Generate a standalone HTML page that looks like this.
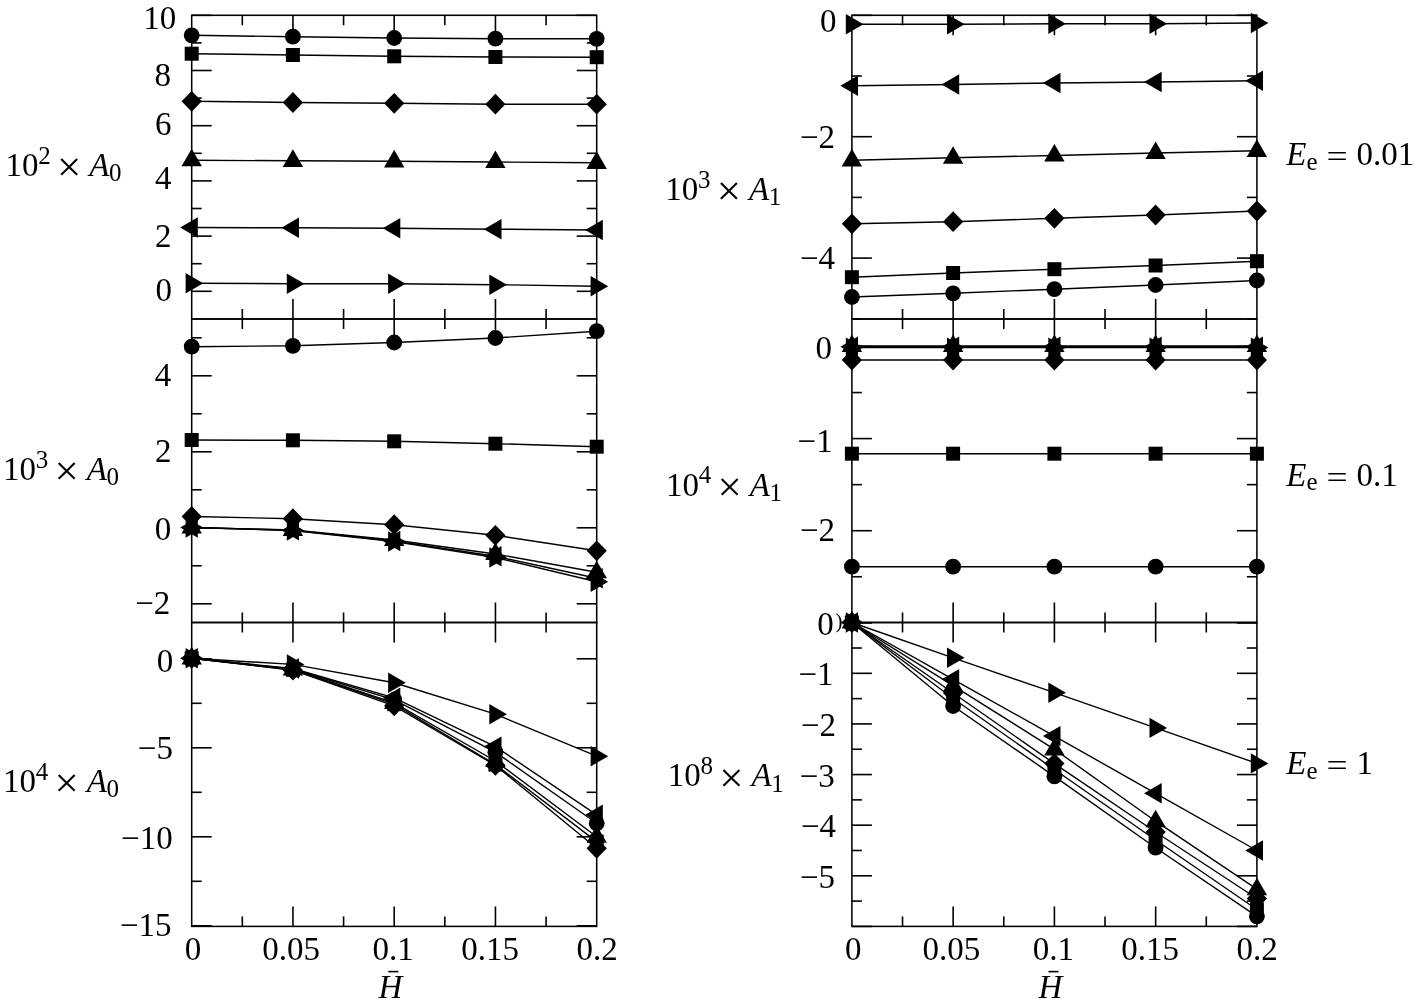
<!DOCTYPE html>
<html lang="en"><head><meta charset="utf-8"><title>Figure</title>
<style>html,body{margin:0;padding:0;background:#fff}body{width:1416px;height:1004px;overflow:hidden}</style></head>
<body>
<svg width="1416" height="1004" viewBox="0 0 1416 1004" style="display:block">
<rect width="1416" height="1004" fill="#fff"/>
<g stroke="#000" fill="#000" stroke-linecap="butt">
<rect x="191.70" y="15.30" width="405.00" height="303.70" fill="none" stroke-width="1.55"/>
<line x1="242.32" y1="15.30" x2="242.32" y2="25.30" stroke-width="1.6"/>
<line x1="242.32" y1="319.00" x2="242.32" y2="309.00" stroke-width="1.6"/>
<line x1="292.95" y1="15.30" x2="292.95" y2="35.30" stroke-width="1.6"/>
<line x1="292.95" y1="319.00" x2="292.95" y2="299.00" stroke-width="1.6"/>
<line x1="343.58" y1="15.30" x2="343.58" y2="25.30" stroke-width="1.6"/>
<line x1="343.58" y1="319.00" x2="343.58" y2="309.00" stroke-width="1.6"/>
<line x1="394.20" y1="15.30" x2="394.20" y2="35.30" stroke-width="1.6"/>
<line x1="394.20" y1="319.00" x2="394.20" y2="299.00" stroke-width="1.6"/>
<line x1="444.83" y1="15.30" x2="444.83" y2="25.30" stroke-width="1.6"/>
<line x1="444.83" y1="319.00" x2="444.83" y2="309.00" stroke-width="1.6"/>
<line x1="495.45" y1="15.30" x2="495.45" y2="35.30" stroke-width="1.6"/>
<line x1="495.45" y1="319.00" x2="495.45" y2="299.00" stroke-width="1.6"/>
<line x1="546.08" y1="15.30" x2="546.08" y2="25.30" stroke-width="1.6"/>
<line x1="546.08" y1="319.00" x2="546.08" y2="309.00" stroke-width="1.6"/>
<line x1="191.70" y1="291.30" x2="211.70" y2="291.30" stroke-width="1.6"/>
<line x1="596.70" y1="291.30" x2="576.70" y2="291.30" stroke-width="1.6"/>
<line x1="191.70" y1="236.10" x2="211.70" y2="236.10" stroke-width="1.6"/>
<line x1="596.70" y1="236.10" x2="576.70" y2="236.10" stroke-width="1.6"/>
<line x1="191.70" y1="180.90" x2="211.70" y2="180.90" stroke-width="1.6"/>
<line x1="596.70" y1="180.90" x2="576.70" y2="180.90" stroke-width="1.6"/>
<line x1="191.70" y1="125.70" x2="211.70" y2="125.70" stroke-width="1.6"/>
<line x1="596.70" y1="125.70" x2="576.70" y2="125.70" stroke-width="1.6"/>
<line x1="191.70" y1="70.50" x2="211.70" y2="70.50" stroke-width="1.6"/>
<line x1="596.70" y1="70.50" x2="576.70" y2="70.50" stroke-width="1.6"/>
<line x1="191.70" y1="15.30" x2="211.70" y2="15.30" stroke-width="1.6"/>
<line x1="596.70" y1="15.30" x2="576.70" y2="15.30" stroke-width="1.6"/>
<line x1="191.70" y1="263.70" x2="201.70" y2="263.70" stroke-width="1.6"/>
<line x1="596.70" y1="263.70" x2="586.70" y2="263.70" stroke-width="1.6"/>
<line x1="191.70" y1="208.50" x2="201.70" y2="208.50" stroke-width="1.6"/>
<line x1="596.70" y1="208.50" x2="586.70" y2="208.50" stroke-width="1.6"/>
<line x1="191.70" y1="153.30" x2="201.70" y2="153.30" stroke-width="1.6"/>
<line x1="596.70" y1="153.30" x2="586.70" y2="153.30" stroke-width="1.6"/>
<line x1="191.70" y1="98.10" x2="201.70" y2="98.10" stroke-width="1.6"/>
<line x1="596.70" y1="98.10" x2="586.70" y2="98.10" stroke-width="1.6"/>
<line x1="191.70" y1="42.90" x2="201.70" y2="42.90" stroke-width="1.6"/>
<line x1="596.70" y1="42.90" x2="586.70" y2="42.90" stroke-width="1.6"/>
<rect x="191.70" y="319.00" width="405.00" height="303.50" fill="none" stroke-width="1.55"/>
<line x1="242.32" y1="319.00" x2="242.32" y2="329.00" stroke-width="1.6"/>
<line x1="242.32" y1="622.50" x2="242.32" y2="612.50" stroke-width="1.6"/>
<line x1="292.95" y1="319.00" x2="292.95" y2="339.00" stroke-width="1.6"/>
<line x1="292.95" y1="622.50" x2="292.95" y2="602.50" stroke-width="1.6"/>
<line x1="343.58" y1="319.00" x2="343.58" y2="329.00" stroke-width="1.6"/>
<line x1="343.58" y1="622.50" x2="343.58" y2="612.50" stroke-width="1.6"/>
<line x1="394.20" y1="319.00" x2="394.20" y2="339.00" stroke-width="1.6"/>
<line x1="394.20" y1="622.50" x2="394.20" y2="602.50" stroke-width="1.6"/>
<line x1="444.83" y1="319.00" x2="444.83" y2="329.00" stroke-width="1.6"/>
<line x1="444.83" y1="622.50" x2="444.83" y2="612.50" stroke-width="1.6"/>
<line x1="495.45" y1="319.00" x2="495.45" y2="339.00" stroke-width="1.6"/>
<line x1="495.45" y1="622.50" x2="495.45" y2="602.50" stroke-width="1.6"/>
<line x1="546.08" y1="319.00" x2="546.08" y2="329.00" stroke-width="1.6"/>
<line x1="546.08" y1="622.50" x2="546.08" y2="612.50" stroke-width="1.6"/>
<line x1="191.70" y1="603.80" x2="211.70" y2="603.80" stroke-width="1.6"/>
<line x1="596.70" y1="603.80" x2="576.70" y2="603.80" stroke-width="1.6"/>
<line x1="191.70" y1="527.80" x2="211.70" y2="527.80" stroke-width="1.6"/>
<line x1="596.70" y1="527.80" x2="576.70" y2="527.80" stroke-width="1.6"/>
<line x1="191.70" y1="451.80" x2="211.70" y2="451.80" stroke-width="1.6"/>
<line x1="596.70" y1="451.80" x2="576.70" y2="451.80" stroke-width="1.6"/>
<line x1="191.70" y1="375.80" x2="211.70" y2="375.80" stroke-width="1.6"/>
<line x1="596.70" y1="375.80" x2="576.70" y2="375.80" stroke-width="1.6"/>
<line x1="191.70" y1="565.80" x2="201.70" y2="565.80" stroke-width="1.6"/>
<line x1="596.70" y1="565.80" x2="586.70" y2="565.80" stroke-width="1.6"/>
<line x1="191.70" y1="489.80" x2="201.70" y2="489.80" stroke-width="1.6"/>
<line x1="596.70" y1="489.80" x2="586.70" y2="489.80" stroke-width="1.6"/>
<line x1="191.70" y1="413.80" x2="201.70" y2="413.80" stroke-width="1.6"/>
<line x1="596.70" y1="413.80" x2="586.70" y2="413.80" stroke-width="1.6"/>
<line x1="191.70" y1="337.80" x2="201.70" y2="337.80" stroke-width="1.6"/>
<line x1="596.70" y1="337.80" x2="586.70" y2="337.80" stroke-width="1.6"/>
<rect x="191.70" y="622.50" width="405.00" height="303.90" fill="none" stroke-width="1.55"/>
<line x1="242.32" y1="622.50" x2="242.32" y2="632.50" stroke-width="1.6"/>
<line x1="242.32" y1="926.40" x2="242.32" y2="916.40" stroke-width="1.6"/>
<line x1="292.95" y1="622.50" x2="292.95" y2="642.50" stroke-width="1.6"/>
<line x1="292.95" y1="926.40" x2="292.95" y2="906.40" stroke-width="1.6"/>
<line x1="343.58" y1="622.50" x2="343.58" y2="632.50" stroke-width="1.6"/>
<line x1="343.58" y1="926.40" x2="343.58" y2="916.40" stroke-width="1.6"/>
<line x1="394.20" y1="622.50" x2="394.20" y2="642.50" stroke-width="1.6"/>
<line x1="394.20" y1="926.40" x2="394.20" y2="906.40" stroke-width="1.6"/>
<line x1="444.83" y1="622.50" x2="444.83" y2="632.50" stroke-width="1.6"/>
<line x1="444.83" y1="926.40" x2="444.83" y2="916.40" stroke-width="1.6"/>
<line x1="495.45" y1="622.50" x2="495.45" y2="642.50" stroke-width="1.6"/>
<line x1="495.45" y1="926.40" x2="495.45" y2="906.40" stroke-width="1.6"/>
<line x1="546.08" y1="622.50" x2="546.08" y2="632.50" stroke-width="1.6"/>
<line x1="546.08" y1="926.40" x2="546.08" y2="916.40" stroke-width="1.6"/>
<line x1="191.70" y1="658.80" x2="211.70" y2="658.80" stroke-width="1.6"/>
<line x1="596.70" y1="658.80" x2="576.70" y2="658.80" stroke-width="1.6"/>
<line x1="191.70" y1="747.80" x2="211.70" y2="747.80" stroke-width="1.6"/>
<line x1="596.70" y1="747.80" x2="576.70" y2="747.80" stroke-width="1.6"/>
<line x1="191.70" y1="836.80" x2="211.70" y2="836.80" stroke-width="1.6"/>
<line x1="596.70" y1="836.80" x2="576.70" y2="836.80" stroke-width="1.6"/>
<line x1="191.70" y1="925.80" x2="211.70" y2="925.80" stroke-width="1.6"/>
<line x1="596.70" y1="925.80" x2="576.70" y2="925.80" stroke-width="1.6"/>
<line x1="191.70" y1="703.30" x2="201.70" y2="703.30" stroke-width="1.6"/>
<line x1="596.70" y1="703.30" x2="586.70" y2="703.30" stroke-width="1.6"/>
<line x1="191.70" y1="792.30" x2="201.70" y2="792.30" stroke-width="1.6"/>
<line x1="596.70" y1="792.30" x2="586.70" y2="792.30" stroke-width="1.6"/>
<line x1="191.70" y1="881.30" x2="201.70" y2="881.30" stroke-width="1.6"/>
<line x1="596.70" y1="881.30" x2="586.70" y2="881.30" stroke-width="1.6"/>
<rect x="851.90" y="15.30" width="405.00" height="303.70" fill="none" stroke-width="1.55"/>
<line x1="902.53" y1="15.30" x2="902.53" y2="25.30" stroke-width="1.6"/>
<line x1="902.53" y1="319.00" x2="902.53" y2="309.00" stroke-width="1.6"/>
<line x1="953.15" y1="15.30" x2="953.15" y2="35.30" stroke-width="1.6"/>
<line x1="953.15" y1="319.00" x2="953.15" y2="299.00" stroke-width="1.6"/>
<line x1="1003.78" y1="15.30" x2="1003.78" y2="25.30" stroke-width="1.6"/>
<line x1="1003.78" y1="319.00" x2="1003.78" y2="309.00" stroke-width="1.6"/>
<line x1="1054.40" y1="15.30" x2="1054.40" y2="35.30" stroke-width="1.6"/>
<line x1="1054.40" y1="319.00" x2="1054.40" y2="299.00" stroke-width="1.6"/>
<line x1="1105.03" y1="15.30" x2="1105.03" y2="25.30" stroke-width="1.6"/>
<line x1="1105.03" y1="319.00" x2="1105.03" y2="309.00" stroke-width="1.6"/>
<line x1="1155.65" y1="15.30" x2="1155.65" y2="35.30" stroke-width="1.6"/>
<line x1="1155.65" y1="319.00" x2="1155.65" y2="299.00" stroke-width="1.6"/>
<line x1="1206.28" y1="15.30" x2="1206.28" y2="25.30" stroke-width="1.6"/>
<line x1="1206.28" y1="319.00" x2="1206.28" y2="309.00" stroke-width="1.6"/>
<line x1="851.90" y1="15.30" x2="871.90" y2="15.30" stroke-width="1.6"/>
<line x1="1256.90" y1="15.30" x2="1236.90" y2="15.30" stroke-width="1.6"/>
<line x1="851.90" y1="136.70" x2="871.90" y2="136.70" stroke-width="1.6"/>
<line x1="1256.90" y1="136.70" x2="1236.90" y2="136.70" stroke-width="1.6"/>
<line x1="851.90" y1="258.10" x2="871.90" y2="258.10" stroke-width="1.6"/>
<line x1="1256.90" y1="258.10" x2="1236.90" y2="258.10" stroke-width="1.6"/>
<line x1="851.90" y1="76.00" x2="861.90" y2="76.00" stroke-width="1.6"/>
<line x1="1256.90" y1="76.00" x2="1246.90" y2="76.00" stroke-width="1.6"/>
<line x1="851.90" y1="197.40" x2="861.90" y2="197.40" stroke-width="1.6"/>
<line x1="1256.90" y1="197.40" x2="1246.90" y2="197.40" stroke-width="1.6"/>
<line x1="851.90" y1="318.80" x2="861.90" y2="318.80" stroke-width="1.6"/>
<line x1="1256.90" y1="318.80" x2="1246.90" y2="318.80" stroke-width="1.6"/>
<rect x="851.90" y="319.00" width="405.00" height="303.50" fill="none" stroke-width="1.55"/>
<line x1="902.53" y1="319.00" x2="902.53" y2="329.00" stroke-width="1.6"/>
<line x1="902.53" y1="622.50" x2="902.53" y2="612.50" stroke-width="1.6"/>
<line x1="953.15" y1="319.00" x2="953.15" y2="339.00" stroke-width="1.6"/>
<line x1="953.15" y1="622.50" x2="953.15" y2="602.50" stroke-width="1.6"/>
<line x1="1003.78" y1="319.00" x2="1003.78" y2="329.00" stroke-width="1.6"/>
<line x1="1003.78" y1="622.50" x2="1003.78" y2="612.50" stroke-width="1.6"/>
<line x1="1054.40" y1="319.00" x2="1054.40" y2="339.00" stroke-width="1.6"/>
<line x1="1054.40" y1="622.50" x2="1054.40" y2="602.50" stroke-width="1.6"/>
<line x1="1105.03" y1="319.00" x2="1105.03" y2="329.00" stroke-width="1.6"/>
<line x1="1105.03" y1="622.50" x2="1105.03" y2="612.50" stroke-width="1.6"/>
<line x1="1155.65" y1="319.00" x2="1155.65" y2="339.00" stroke-width="1.6"/>
<line x1="1155.65" y1="622.50" x2="1155.65" y2="602.50" stroke-width="1.6"/>
<line x1="1206.28" y1="319.00" x2="1206.28" y2="329.00" stroke-width="1.6"/>
<line x1="1206.28" y1="622.50" x2="1206.28" y2="612.50" stroke-width="1.6"/>
<line x1="851.90" y1="346.50" x2="871.90" y2="346.50" stroke-width="1.6"/>
<line x1="1256.90" y1="346.50" x2="1236.90" y2="346.50" stroke-width="1.6"/>
<line x1="851.90" y1="438.60" x2="871.90" y2="438.60" stroke-width="1.6"/>
<line x1="1256.90" y1="438.60" x2="1236.90" y2="438.60" stroke-width="1.6"/>
<line x1="851.90" y1="530.70" x2="871.90" y2="530.70" stroke-width="1.6"/>
<line x1="1256.90" y1="530.70" x2="1236.90" y2="530.70" stroke-width="1.6"/>
<line x1="851.90" y1="622.80" x2="871.90" y2="622.80" stroke-width="1.6"/>
<line x1="1256.90" y1="622.80" x2="1236.90" y2="622.80" stroke-width="1.6"/>
<line x1="851.90" y1="392.55" x2="861.90" y2="392.55" stroke-width="1.6"/>
<line x1="1256.90" y1="392.55" x2="1246.90" y2="392.55" stroke-width="1.6"/>
<line x1="851.90" y1="484.65" x2="861.90" y2="484.65" stroke-width="1.6"/>
<line x1="1256.90" y1="484.65" x2="1246.90" y2="484.65" stroke-width="1.6"/>
<line x1="851.90" y1="576.75" x2="861.90" y2="576.75" stroke-width="1.6"/>
<line x1="1256.90" y1="576.75" x2="1246.90" y2="576.75" stroke-width="1.6"/>
<rect x="851.90" y="622.50" width="405.00" height="303.90" fill="none" stroke-width="1.55"/>
<line x1="902.53" y1="622.50" x2="902.53" y2="632.50" stroke-width="1.6"/>
<line x1="902.53" y1="926.40" x2="902.53" y2="916.40" stroke-width="1.6"/>
<line x1="953.15" y1="622.50" x2="953.15" y2="642.50" stroke-width="1.6"/>
<line x1="953.15" y1="926.40" x2="953.15" y2="906.40" stroke-width="1.6"/>
<line x1="1003.78" y1="622.50" x2="1003.78" y2="632.50" stroke-width="1.6"/>
<line x1="1003.78" y1="926.40" x2="1003.78" y2="916.40" stroke-width="1.6"/>
<line x1="1054.40" y1="622.50" x2="1054.40" y2="642.50" stroke-width="1.6"/>
<line x1="1054.40" y1="926.40" x2="1054.40" y2="906.40" stroke-width="1.6"/>
<line x1="1105.03" y1="622.50" x2="1105.03" y2="632.50" stroke-width="1.6"/>
<line x1="1105.03" y1="926.40" x2="1105.03" y2="916.40" stroke-width="1.6"/>
<line x1="1155.65" y1="622.50" x2="1155.65" y2="642.50" stroke-width="1.6"/>
<line x1="1155.65" y1="926.40" x2="1155.65" y2="906.40" stroke-width="1.6"/>
<line x1="1206.28" y1="622.50" x2="1206.28" y2="632.50" stroke-width="1.6"/>
<line x1="1206.28" y1="926.40" x2="1206.28" y2="916.40" stroke-width="1.6"/>
<line x1="851.90" y1="622.70" x2="871.90" y2="622.70" stroke-width="1.6"/>
<line x1="1256.90" y1="622.70" x2="1236.90" y2="622.70" stroke-width="1.6"/>
<line x1="851.90" y1="673.32" x2="871.90" y2="673.32" stroke-width="1.6"/>
<line x1="1256.90" y1="673.32" x2="1236.90" y2="673.32" stroke-width="1.6"/>
<line x1="851.90" y1="723.94" x2="871.90" y2="723.94" stroke-width="1.6"/>
<line x1="1256.90" y1="723.94" x2="1236.90" y2="723.94" stroke-width="1.6"/>
<line x1="851.90" y1="774.56" x2="871.90" y2="774.56" stroke-width="1.6"/>
<line x1="1256.90" y1="774.56" x2="1236.90" y2="774.56" stroke-width="1.6"/>
<line x1="851.90" y1="825.18" x2="871.90" y2="825.18" stroke-width="1.6"/>
<line x1="1256.90" y1="825.18" x2="1236.90" y2="825.18" stroke-width="1.6"/>
<line x1="851.90" y1="875.80" x2="871.90" y2="875.80" stroke-width="1.6"/>
<line x1="1256.90" y1="875.80" x2="1236.90" y2="875.80" stroke-width="1.6"/>
<line x1="851.90" y1="926.42" x2="871.90" y2="926.42" stroke-width="1.6"/>
<line x1="1256.90" y1="926.42" x2="1236.90" y2="926.42" stroke-width="1.6"/>
<line x1="851.90" y1="648.01" x2="861.90" y2="648.01" stroke-width="1.6"/>
<line x1="1256.90" y1="648.01" x2="1246.90" y2="648.01" stroke-width="1.6"/>
<line x1="851.90" y1="698.63" x2="861.90" y2="698.63" stroke-width="1.6"/>
<line x1="1256.90" y1="698.63" x2="1246.90" y2="698.63" stroke-width="1.6"/>
<line x1="851.90" y1="749.25" x2="861.90" y2="749.25" stroke-width="1.6"/>
<line x1="1256.90" y1="749.25" x2="1246.90" y2="749.25" stroke-width="1.6"/>
<line x1="851.90" y1="799.87" x2="861.90" y2="799.87" stroke-width="1.6"/>
<line x1="1256.90" y1="799.87" x2="1246.90" y2="799.87" stroke-width="1.6"/>
<line x1="851.90" y1="850.49" x2="861.90" y2="850.49" stroke-width="1.6"/>
<line x1="1256.90" y1="850.49" x2="1246.90" y2="850.49" stroke-width="1.6"/>
<line x1="851.90" y1="901.11" x2="861.90" y2="901.11" stroke-width="1.6"/>
<line x1="1256.90" y1="901.11" x2="1246.90" y2="901.11" stroke-width="1.6"/>
</g>
<g stroke="#000" fill="#000" stroke-linejoin="miter">
<polyline fill="none" stroke-width="1.4" points="191.70,35.30 292.90,36.70 394.20,38.00 495.40,38.70 596.70,38.80"/>
<circle cx="191.70" cy="35.30" r="7.9" stroke="none"/>
<circle cx="292.90" cy="36.70" r="7.9" stroke="none"/>
<circle cx="394.20" cy="38.00" r="7.9" stroke="none"/>
<circle cx="495.40" cy="38.70" r="7.9" stroke="none"/>
<circle cx="596.70" cy="38.80" r="7.9" stroke="none"/>
<polyline fill="none" stroke-width="1.4" points="191.70,53.70 292.90,55.00 394.20,56.30 495.40,57.00 596.70,57.20"/>
<rect x="184.70" y="46.70" width="14.00" height="14.00" stroke="none"/>
<rect x="285.90" y="48.00" width="14.00" height="14.00" stroke="none"/>
<rect x="387.20" y="49.30" width="14.00" height="14.00" stroke="none"/>
<rect x="488.40" y="50.00" width="14.00" height="14.00" stroke="none"/>
<rect x="589.70" y="50.20" width="14.00" height="14.00" stroke="none"/>
<polyline fill="none" stroke-width="1.4" points="191.70,101.30 292.90,102.50 394.20,103.30 495.40,104.20 596.70,104.20"/>
<polygon points="191.70,90.90 201.80,101.30 191.70,111.70 181.60,101.30" stroke="none"/>
<polygon points="292.90,92.10 303.00,102.50 292.90,112.90 282.80,102.50" stroke="none"/>
<polygon points="394.20,92.90 404.30,103.30 394.20,113.70 384.10,103.30" stroke="none"/>
<polygon points="495.40,93.80 505.50,104.20 495.40,114.60 485.30,104.20" stroke="none"/>
<polygon points="596.70,93.80 606.80,104.20 596.70,114.60 586.60,104.20" stroke="none"/>
<polyline fill="none" stroke-width="1.4" points="191.70,160.20 292.90,160.80 394.20,161.30 495.40,162.00 596.70,162.80"/>
<polygon points="191.70,148.70 201.90,166.30 181.50,166.30" stroke="none"/>
<polygon points="292.90,149.30 303.10,166.90 282.70,166.90" stroke="none"/>
<polygon points="394.20,149.80 404.40,167.40 384.00,167.40" stroke="none"/>
<polygon points="495.40,150.50 505.60,168.10 485.20,168.10" stroke="none"/>
<polygon points="596.70,151.30 606.90,168.90 586.50,168.90" stroke="none"/>
<polyline fill="none" stroke-width="1.4" points="191.70,227.50 292.90,227.80 394.20,228.30 495.40,229.20 596.70,230.00"/>
<polygon points="180.20,227.50 197.80,217.30 197.80,237.70" stroke="none"/>
<polygon points="281.40,227.80 299.00,217.60 299.00,238.00" stroke="none"/>
<polygon points="382.70,228.30 400.30,218.10 400.30,238.50" stroke="none"/>
<polygon points="483.90,229.20 501.50,219.00 501.50,239.40" stroke="none"/>
<polygon points="585.20,230.00 602.80,219.80 602.80,240.20" stroke="none"/>
<polyline fill="none" stroke-width="1.4" points="191.70,283.30 292.90,283.70 394.20,283.70 495.40,284.70 596.70,286.20"/>
<polygon points="203.20,283.30 185.60,273.10 185.60,293.50" stroke="none"/>
<polygon points="304.40,283.70 286.80,273.50 286.80,293.90" stroke="none"/>
<polygon points="405.70,283.70 388.10,273.50 388.10,293.90" stroke="none"/>
<polygon points="506.90,284.70 489.30,274.50 489.30,294.90" stroke="none"/>
<polygon points="608.20,286.20 590.60,276.00 590.60,296.40" stroke="none"/>
<polyline fill="none" stroke-width="1.4" points="191.70,346.70 292.90,345.80 394.20,342.50 495.40,338.00 596.70,331.20"/>
<circle cx="191.70" cy="346.70" r="7.9" stroke="none"/>
<circle cx="292.90" cy="345.80" r="7.9" stroke="none"/>
<circle cx="394.20" cy="342.50" r="7.9" stroke="none"/>
<circle cx="495.40" cy="338.00" r="7.9" stroke="none"/>
<circle cx="596.70" cy="331.20" r="7.9" stroke="none"/>
<polyline fill="none" stroke-width="1.4" points="191.70,440.00 292.90,440.30 394.20,441.30 495.40,443.70 596.70,446.70"/>
<rect x="184.70" y="433.00" width="14.00" height="14.00" stroke="none"/>
<rect x="285.90" y="433.30" width="14.00" height="14.00" stroke="none"/>
<rect x="387.20" y="434.30" width="14.00" height="14.00" stroke="none"/>
<rect x="488.40" y="436.70" width="14.00" height="14.00" stroke="none"/>
<rect x="589.70" y="439.70" width="14.00" height="14.00" stroke="none"/>
<polyline fill="none" stroke-width="1.4" points="191.70,516.50 292.90,518.70 394.20,524.70 495.40,535.30 596.70,550.80"/>
<polygon points="191.70,506.10 201.80,516.50 191.70,526.90 181.60,516.50" stroke="none"/>
<polygon points="292.90,508.30 303.00,518.70 292.90,529.10 282.80,518.70" stroke="none"/>
<polygon points="394.20,514.30 404.30,524.70 394.20,535.10 384.10,524.70" stroke="none"/>
<polygon points="495.40,524.90 505.50,535.30 495.40,545.70 485.30,535.30" stroke="none"/>
<polygon points="596.70,540.40 606.80,550.80 596.70,561.20 586.60,550.80" stroke="none"/>
<polyline fill="none" stroke-width="1.4" points="191.70,527.50 292.90,530.00 394.20,540.00 495.40,554.00 596.70,572.20"/>
<polygon points="191.70,516.00 201.90,533.60 181.50,533.60" stroke="none"/>
<polygon points="292.90,518.50 303.10,536.10 282.70,536.10" stroke="none"/>
<polygon points="394.20,528.50 404.40,546.10 384.00,546.10" stroke="none"/>
<polygon points="495.40,542.50 505.60,560.10 485.20,560.10" stroke="none"/>
<polygon points="596.70,560.70 606.90,578.30 586.50,578.30" stroke="none"/>
<polyline fill="none" stroke-width="1.4" points="191.70,527.50 292.90,530.30 394.20,541.00 495.40,556.30 596.70,578.30"/>
<polygon points="180.20,527.50 197.80,517.30 197.80,537.70" stroke="none"/>
<polygon points="281.40,530.30 299.00,520.10 299.00,540.50" stroke="none"/>
<polygon points="382.70,541.00 400.30,530.80 400.30,551.20" stroke="none"/>
<polygon points="483.90,556.30 501.50,546.10 501.50,566.50" stroke="none"/>
<polygon points="585.20,578.30 602.80,568.10 602.80,588.50" stroke="none"/>
<polyline fill="none" stroke-width="1.4" points="191.70,527.50 292.90,530.50 394.20,541.50 495.40,557.50 596.70,581.80"/>
<polygon points="203.20,527.50 185.60,517.30 185.60,537.70" stroke="none"/>
<polygon points="304.40,530.50 286.80,520.30 286.80,540.70" stroke="none"/>
<polygon points="405.70,541.50 388.10,531.30 388.10,551.70" stroke="none"/>
<polygon points="506.90,557.50 489.30,547.30 489.30,567.70" stroke="none"/>
<polygon points="608.20,581.80 590.60,571.60 590.60,592.00" stroke="none"/>
<polyline fill="none" stroke-width="1.4" points="191.70,658.30 292.90,669.00 394.20,699.90 495.40,752.20 596.70,823.30"/>
<circle cx="191.70" cy="658.30" r="7.9" stroke="none"/>
<circle cx="292.90" cy="669.00" r="7.9" stroke="none"/>
<circle cx="394.20" cy="699.90" r="7.9" stroke="none"/>
<circle cx="495.40" cy="752.20" r="7.9" stroke="none"/>
<circle cx="596.70" cy="823.30" r="7.9" stroke="none"/>
<polyline fill="none" stroke-width="1.4" points="191.70,658.30 292.90,669.80 394.20,704.10 495.40,764.60 596.70,841.60"/>
<rect x="184.70" y="651.30" width="14.00" height="14.00" stroke="none"/>
<rect x="285.90" y="662.80" width="14.00" height="14.00" stroke="none"/>
<rect x="387.20" y="697.10" width="14.00" height="14.00" stroke="none"/>
<rect x="488.40" y="757.60" width="14.00" height="14.00" stroke="none"/>
<rect x="589.70" y="834.60" width="14.00" height="14.00" stroke="none"/>
<polyline fill="none" stroke-width="1.4" points="191.70,658.30 292.90,670.20 394.20,705.80 495.40,765.30 596.70,848.30"/>
<polygon points="191.70,647.90 201.80,658.30 191.70,668.70 181.60,658.30" stroke="none"/>
<polygon points="292.90,659.80 303.00,670.20 292.90,680.60 282.80,670.20" stroke="none"/>
<polygon points="394.20,695.40 404.30,705.80 394.20,716.20 384.10,705.80" stroke="none"/>
<polygon points="495.40,754.90 505.50,765.30 495.40,775.70 485.30,765.30" stroke="none"/>
<polygon points="596.70,837.90 606.80,848.30 596.70,858.70 586.60,848.30" stroke="none"/>
<polyline fill="none" stroke-width="1.4" points="191.70,658.30 292.90,669.50 394.20,702.90 495.40,761.00 596.70,836.70"/>
<polygon points="191.70,646.80 201.90,664.40 181.50,664.40" stroke="none"/>
<polygon points="292.90,658.00 303.10,675.60 282.70,675.60" stroke="none"/>
<polygon points="394.20,691.40 404.40,709.00 384.00,709.00" stroke="none"/>
<polygon points="495.40,749.50 505.60,767.10 485.20,767.10" stroke="none"/>
<polygon points="596.70,825.20 606.90,842.80 586.50,842.80" stroke="none"/>
<polyline fill="none" stroke-width="1.4" points="191.70,658.30 292.90,668.50 394.20,697.80 495.40,746.60 596.70,814.80"/>
<polygon points="180.20,658.30 197.80,648.10 197.80,668.50" stroke="none"/>
<polygon points="281.40,668.50 299.00,658.30 299.00,678.70" stroke="none"/>
<polygon points="382.70,697.80 400.30,687.60 400.30,708.00" stroke="none"/>
<polygon points="483.90,746.60 501.50,736.40 501.50,756.80" stroke="none"/>
<polygon points="585.20,814.80 602.80,804.60 602.80,825.00" stroke="none"/>
<polyline fill="none" stroke-width="1.4" points="191.70,658.30 292.90,664.40 394.20,682.80 495.40,714.20 596.70,756.20"/>
<polygon points="203.20,658.30 185.60,648.10 185.60,668.50" stroke="none"/>
<polygon points="304.40,664.40 286.80,654.20 286.80,674.60" stroke="none"/>
<polygon points="405.70,682.80 388.10,672.60 388.10,693.00" stroke="none"/>
<polygon points="506.90,714.20 489.30,704.00 489.30,724.40" stroke="none"/>
<polygon points="608.20,756.20 590.60,746.00 590.60,766.40" stroke="none"/>
<polyline fill="none" stroke-width="1.4" points="851.90,297.00 953.10,293.30 1054.40,289.20 1155.60,285.00 1256.90,280.50"/>
<circle cx="851.90" cy="297.00" r="7.9" stroke="none"/>
<circle cx="953.10" cy="293.30" r="7.9" stroke="none"/>
<circle cx="1054.40" cy="289.20" r="7.9" stroke="none"/>
<circle cx="1155.60" cy="285.00" r="7.9" stroke="none"/>
<circle cx="1256.90" cy="280.50" r="7.9" stroke="none"/>
<polyline fill="none" stroke-width="1.4" points="851.90,277.20 953.10,273.00 1054.40,269.20 1155.60,265.50 1256.90,261.20"/>
<rect x="844.90" y="270.20" width="14.00" height="14.00" stroke="none"/>
<rect x="946.10" y="266.00" width="14.00" height="14.00" stroke="none"/>
<rect x="1047.40" y="262.20" width="14.00" height="14.00" stroke="none"/>
<rect x="1148.60" y="258.50" width="14.00" height="14.00" stroke="none"/>
<rect x="1249.90" y="254.20" width="14.00" height="14.00" stroke="none"/>
<polyline fill="none" stroke-width="1.4" points="851.90,223.80 953.10,221.70 1054.40,218.30 1155.60,215.00 1256.90,211.00"/>
<polygon points="851.90,213.40 862.00,223.80 851.90,234.20 841.80,223.80" stroke="none"/>
<polygon points="953.10,211.30 963.20,221.70 953.10,232.10 943.00,221.70" stroke="none"/>
<polygon points="1054.40,207.90 1064.50,218.30 1054.40,228.70 1044.30,218.30" stroke="none"/>
<polygon points="1155.60,204.60 1165.70,215.00 1155.60,225.40 1145.50,215.00" stroke="none"/>
<polygon points="1256.90,200.60 1267.00,211.00 1256.90,221.40 1246.80,211.00" stroke="none"/>
<polyline fill="none" stroke-width="1.4" points="851.90,160.30 953.10,157.70 1054.40,155.50 1155.60,153.00 1256.90,150.80"/>
<polygon points="851.90,148.80 862.10,166.40 841.70,166.40" stroke="none"/>
<polygon points="953.10,146.20 963.30,163.80 942.90,163.80" stroke="none"/>
<polygon points="1054.40,144.00 1064.60,161.60 1044.20,161.60" stroke="none"/>
<polygon points="1155.60,141.50 1165.80,159.10 1145.40,159.10" stroke="none"/>
<polygon points="1256.90,139.30 1267.10,156.90 1246.70,156.90" stroke="none"/>
<polyline fill="none" stroke-width="1.4" points="851.90,85.80 953.10,84.50 1054.40,83.00 1155.60,82.00 1256.90,80.80"/>
<polygon points="840.40,85.80 858.00,75.60 858.00,96.00" stroke="none"/>
<polygon points="941.60,84.50 959.20,74.30 959.20,94.70" stroke="none"/>
<polygon points="1042.90,83.00 1060.50,72.80 1060.50,93.20" stroke="none"/>
<polygon points="1144.10,82.00 1161.70,71.80 1161.70,92.20" stroke="none"/>
<polygon points="1245.40,80.80 1263.00,70.60 1263.00,91.00" stroke="none"/>
<polyline fill="none" stroke-width="1.4" points="851.90,24.20 953.10,24.20 1054.40,23.80 1155.60,23.70 1256.90,23.00"/>
<polygon points="863.40,24.20 845.80,14.00 845.80,34.40" stroke="none"/>
<polygon points="964.60,24.20 947.00,14.00 947.00,34.40" stroke="none"/>
<polygon points="1065.90,23.80 1048.30,13.60 1048.30,34.00" stroke="none"/>
<polygon points="1167.10,23.70 1149.50,13.50 1149.50,33.90" stroke="none"/>
<polygon points="1268.40,23.00 1250.80,12.80 1250.80,33.20" stroke="none"/>
<polyline fill="none" stroke-width="1.4" points="851.90,566.70 953.10,566.70 1054.40,566.70 1155.60,566.70 1256.90,566.70"/>
<circle cx="851.90" cy="566.70" r="7.9" stroke="none"/>
<circle cx="953.10" cy="566.70" r="7.9" stroke="none"/>
<circle cx="1054.40" cy="566.70" r="7.9" stroke="none"/>
<circle cx="1155.60" cy="566.70" r="7.9" stroke="none"/>
<circle cx="1256.90" cy="566.70" r="7.9" stroke="none"/>
<polyline fill="none" stroke-width="1.4" points="851.90,453.70 953.10,453.70 1054.40,453.70 1155.60,453.70 1256.90,453.70"/>
<rect x="844.90" y="446.70" width="14.00" height="14.00" stroke="none"/>
<rect x="946.10" y="446.70" width="14.00" height="14.00" stroke="none"/>
<rect x="1047.40" y="446.70" width="14.00" height="14.00" stroke="none"/>
<rect x="1148.60" y="446.70" width="14.00" height="14.00" stroke="none"/>
<rect x="1249.90" y="446.70" width="14.00" height="14.00" stroke="none"/>
<polyline fill="none" stroke-width="1.4" points="851.90,360.00 953.10,360.00 1054.40,360.00 1155.60,360.00 1256.90,360.00"/>
<polygon points="851.90,349.60 862.00,360.00 851.90,370.40 841.80,360.00" stroke="none"/>
<polygon points="953.10,349.60 963.20,360.00 953.10,370.40 943.00,360.00" stroke="none"/>
<polygon points="1054.40,349.60 1064.50,360.00 1054.40,370.40 1044.30,360.00" stroke="none"/>
<polygon points="1155.60,349.60 1165.70,360.00 1155.60,370.40 1145.50,360.00" stroke="none"/>
<polygon points="1256.90,349.60 1267.00,360.00 1256.90,370.40 1246.80,360.00" stroke="none"/>
<polyline fill="none" stroke-width="1.4" points="851.90,346.00 953.10,346.00 1054.40,346.00 1155.60,346.00 1256.90,346.00"/>
<polygon points="851.90,334.50 862.10,352.10 841.70,352.10" stroke="none"/>
<polygon points="953.10,334.50 963.30,352.10 942.90,352.10" stroke="none"/>
<polygon points="1054.40,334.50 1064.60,352.10 1044.20,352.10" stroke="none"/>
<polygon points="1155.60,334.50 1165.80,352.10 1145.40,352.10" stroke="none"/>
<polygon points="1256.90,334.50 1267.10,352.10 1246.70,352.10" stroke="none"/>
<polyline fill="none" stroke-width="1.4" points="851.90,346.80 953.10,346.80 1054.40,346.80 1155.60,346.80 1256.90,346.80"/>
<polygon points="840.40,346.80 858.00,336.60 858.00,357.00" stroke="none"/>
<polygon points="941.60,346.80 959.20,336.60 959.20,357.00" stroke="none"/>
<polygon points="1042.90,346.80 1060.50,336.60 1060.50,357.00" stroke="none"/>
<polygon points="1144.10,346.80 1161.70,336.60 1161.70,357.00" stroke="none"/>
<polygon points="1245.40,346.80 1263.00,336.60 1263.00,357.00" stroke="none"/>
<polyline fill="none" stroke-width="1.4" points="851.90,347.60 953.10,347.60 1054.40,347.60 1155.60,347.60 1256.90,347.60"/>
<polygon points="863.40,347.60 845.80,337.40 845.80,357.80" stroke="none"/>
<polygon points="964.60,347.60 947.00,337.40 947.00,357.80" stroke="none"/>
<polygon points="1065.90,347.60 1048.30,337.40 1048.30,357.80" stroke="none"/>
<polygon points="1167.10,347.60 1149.50,337.40 1149.50,357.80" stroke="none"/>
<polygon points="1268.40,347.60 1250.80,337.40 1250.80,357.80" stroke="none"/>
<polyline fill="none" stroke-width="1.4" points="851.90,622.50 953.10,706.00 1054.40,776.30 1155.60,847.70 1256.90,916.30"/>
<circle cx="851.90" cy="622.50" r="7.9" stroke="none"/>
<circle cx="953.10" cy="706.00" r="7.9" stroke="none"/>
<circle cx="1054.40" cy="776.30" r="7.9" stroke="none"/>
<circle cx="1155.60" cy="847.70" r="7.9" stroke="none"/>
<circle cx="1256.90" cy="916.30" r="7.9" stroke="none"/>
<polyline fill="none" stroke-width="1.4" points="851.90,622.50 953.10,698.50 1054.40,769.50 1155.60,840.00 1256.90,909.50"/>
<rect x="844.90" y="615.50" width="14.00" height="14.00" stroke="none"/>
<rect x="946.10" y="691.50" width="14.00" height="14.00" stroke="none"/>
<rect x="1047.40" y="762.50" width="14.00" height="14.00" stroke="none"/>
<rect x="1148.60" y="833.00" width="14.00" height="14.00" stroke="none"/>
<rect x="1249.90" y="902.50" width="14.00" height="14.00" stroke="none"/>
<polyline fill="none" stroke-width="1.4" points="851.90,622.50 953.10,693.00 1054.40,763.60 1155.60,832.00 1256.90,898.50"/>
<polygon points="851.90,612.10 862.00,622.50 851.90,632.90 841.80,622.50" stroke="none"/>
<polygon points="953.10,682.60 963.20,693.00 953.10,703.40 943.00,693.00" stroke="none"/>
<polygon points="1054.40,753.20 1064.50,763.60 1054.40,774.00 1044.30,763.60" stroke="none"/>
<polygon points="1155.60,821.60 1165.70,832.00 1155.60,842.40 1145.50,832.00" stroke="none"/>
<polygon points="1256.90,888.10 1267.00,898.50 1256.90,908.90 1246.80,898.50" stroke="none"/>
<polyline fill="none" stroke-width="1.4" points="851.90,622.50 953.10,685.70 1054.40,749.30 1155.60,821.20 1256.90,889.20"/>
<polygon points="851.90,611.00 862.10,628.60 841.70,628.60" stroke="none"/>
<polygon points="953.10,674.20 963.30,691.80 942.90,691.80" stroke="none"/>
<polygon points="1054.40,737.80 1064.60,755.40 1044.20,755.40" stroke="none"/>
<polygon points="1155.60,809.70 1165.80,827.30 1145.40,827.30" stroke="none"/>
<polygon points="1256.90,877.70 1267.10,895.30 1246.70,895.30" stroke="none"/>
<polyline fill="none" stroke-width="1.4" points="851.90,622.50 953.10,679.30 1054.40,736.10 1155.60,793.30 1256.90,850.50"/>
<polygon points="840.40,622.50 858.00,612.30 858.00,632.70" stroke="none"/>
<polygon points="941.60,679.30 959.20,669.10 959.20,689.50" stroke="none"/>
<polygon points="1042.90,736.10 1060.50,725.90 1060.50,746.30" stroke="none"/>
<polygon points="1144.10,793.30 1161.70,783.10 1161.70,803.50" stroke="none"/>
<polygon points="1245.40,850.50 1263.00,840.30 1263.00,860.70" stroke="none"/>
<polyline fill="none" stroke-width="1.4" points="851.90,622.50 953.10,657.80 1054.40,692.70 1155.60,727.90 1256.90,763.40"/>
<polygon points="863.40,622.50 845.80,612.30 845.80,632.70" stroke="none"/>
<polygon points="964.60,657.80 947.00,647.60 947.00,668.00" stroke="none"/>
<polygon points="1065.90,692.70 1048.30,682.50 1048.30,702.90" stroke="none"/>
<polygon points="1167.10,727.90 1149.50,717.70 1149.50,738.10" stroke="none"/>
<polygon points="1268.40,763.40 1250.80,753.20 1250.80,773.60" stroke="none"/>
</g>
<g font-family="'Liberation Serif', serif" font-size="33" fill="#000">
<text x="176.3" y="28.8" text-anchor="end">10</text>
<text x="171.1" y="86.4" text-anchor="end">8</text>
<text x="171.6" y="134.9" text-anchor="end">6</text>
<text x="171.6" y="189.3" text-anchor="end">4</text>
<text x="171.6" y="246.5" text-anchor="end">2</text>
<text x="171.9" y="301.0" text-anchor="end">0</text>
<text x="171.3" y="385.8" text-anchor="end">4</text>
<text x="171.6" y="462.3" text-anchor="end">2</text>
<text x="171.3" y="539.9" text-anchor="end">0</text>
<text x="170.3" y="613.8" text-anchor="end">−2</text>
<text x="173.2" y="671.7" text-anchor="end">0</text>
<text x="172.9" y="758.5" text-anchor="end">−5</text>
<text x="172.7" y="849.0" text-anchor="end">−10</text>
<text x="171.6" y="935.5" text-anchor="end">−15</text>
<text x="836.6" y="31.9" text-anchor="end">0</text>
<text x="835.1" y="148.2" text-anchor="end">−2</text>
<text x="835.1" y="269.2" text-anchor="end">−4</text>
<text x="831.9" y="359.3" text-anchor="end">0</text>
<text x="832.7" y="452.4" text-anchor="end">−1</text>
<text x="835.1" y="540.8" text-anchor="end">−2</text>
<text x="833.7" y="635.1" text-anchor="end">0</text>
<text x="833.5" y="684.5" text-anchor="end">−1</text>
<text x="836.1" y="736.0" text-anchor="end">−2</text>
<text x="834.8" y="786.5" text-anchor="end">−3</text>
<text x="836.1" y="836.7" text-anchor="end">−4</text>
<text x="835.1" y="888.1" text-anchor="end">−5</text>
<text x="193.1" y="959.7" text-anchor="middle">0</text>
<text x="291.1" y="959.7" text-anchor="middle">0.05</text>
<text x="393.2" y="959.7" text-anchor="middle">0.1</text>
<text x="490.0" y="959.7" text-anchor="middle">0.15</text>
<text x="597.0" y="959.7" text-anchor="middle">0.2</text>
<text x="378.4" y="998.2" text-anchor="start" font-style="italic">H</text>
<rect x="388.3" y="970.8" width="10" height="1.6"/>
<text x="853.3" y="959.7" text-anchor="middle">0</text>
<text x="951.3" y="959.7" text-anchor="middle">0.05</text>
<text x="1053.4" y="959.7" text-anchor="middle">0.1</text>
<text x="1150.2" y="959.7" text-anchor="middle">0.15</text>
<text x="1257.2" y="959.7" text-anchor="middle">0.2</text>
<text x="1038.6" y="998.2" text-anchor="start" font-style="italic">H</text>
<rect x="1048.5" y="970.8" width="10" height="1.6"/>
<text y="175.8"><tspan x="5.5">10</tspan><tspan x="38.3" dy="-12.3" font-size="25">2</tspan><tspan x="57.0" dy="17.6" font-size="43">×</tspan><tspan x="89.3" dy="-5.3" font-style="italic">A</tspan><tspan x="109.1" dy="5.3" font-size="25">0</tspan></text>
<text y="479.9"><tspan x="3.0">10</tspan><tspan x="35.8" dy="-12.3" font-size="25">3</tspan><tspan x="54.5" dy="17.6" font-size="43">×</tspan><tspan x="86.8" dy="-5.3" font-style="italic">A</tspan><tspan x="106.6" dy="5.3" font-size="25">0</tspan></text>
<text y="792.0"><tspan x="3.0">10</tspan><tspan x="35.8" dy="-12.3" font-size="25">4</tspan><tspan x="54.5" dy="17.6" font-size="43">×</tspan><tspan x="86.8" dy="-5.3" font-style="italic">A</tspan><tspan x="106.6" dy="5.3" font-size="25">0</tspan></text>
<text y="199.8"><tspan x="665.2">10</tspan><tspan x="698.0" dy="-12.3" font-size="25">3</tspan><tspan x="716.7" dy="17.6" font-size="43">×</tspan><tspan x="749.0" dy="-5.3" font-style="italic">A</tspan><tspan x="768.8" dy="5.3" font-size="25">1</tspan></text>
<text y="495.5"><tspan x="665.9">10</tspan><tspan x="698.7" dy="-12.3" font-size="25">4</tspan><tspan x="717.4" dy="17.6" font-size="43">×</tspan><tspan x="749.7" dy="-5.3" font-style="italic">A</tspan><tspan x="769.5" dy="5.3" font-size="25">1</tspan></text>
<text y="786.2"><tspan x="667.7">10</tspan><tspan x="700.5" dy="-12.3" font-size="25">8</tspan><tspan x="719.2" dy="17.6" font-size="43">×</tspan><tspan x="751.5" dy="-5.3" font-style="italic">A</tspan><tspan x="771.3" dy="5.3" font-size="25">1</tspan></text>
<text x="1286.3" y="165.0"><tspan font-style="italic">E</tspan><tspan font-size="25" dy="4.6">e</tspan></text>
<text transform="translate(1337.2,156.2) scale(1.14,0.95)" x="0" y="11.55" text-anchor="middle">=</text>
<text x="1356.5" y="165.0">0.01</text>
<text x="1286.3" y="485.6"><tspan font-style="italic">E</tspan><tspan font-size="25" dy="4.6">e</tspan></text>
<text transform="translate(1337.2,476.8) scale(1.14,0.95)" x="0" y="11.55" text-anchor="middle">=</text>
<text x="1356.5" y="485.6">0.1</text>
<text x="1286.3" y="773.9"><tspan font-style="italic">E</tspan><tspan font-size="25" dy="4.6">e</tspan></text>
<text transform="translate(1337.2,765.1) scale(1.14,0.95)" x="0" y="11.55" text-anchor="middle">=</text>
<text x="1356.5" y="773.9">1</text>
<text x="835.6" y="627.9" text-anchor="start" font-size="21">)</text>
</g>
</svg>
</body></html>
